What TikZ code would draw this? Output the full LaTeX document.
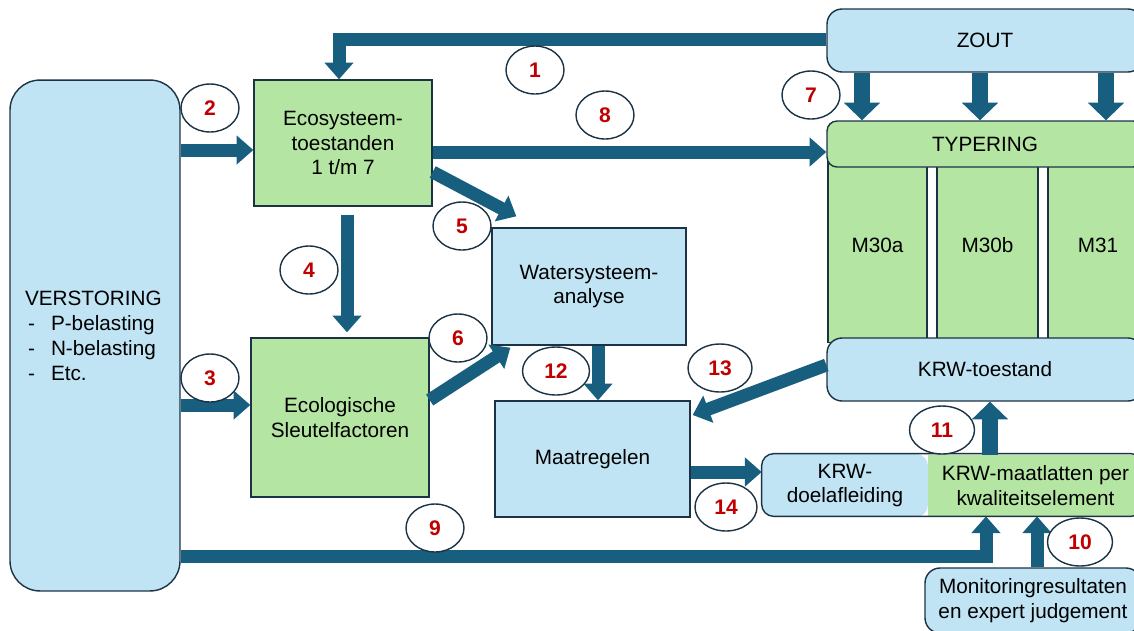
\documentclass[tikz,border=0pt]{standalone}
\usepackage{fontspec}
\setmainfont{Liberation Sans}
\usetikzlibrary{arrows.meta,shapes.geometric,calc}
\definecolor{lichtblauw}{HTML}{C1E4F5}
\definecolor{lichtgroen}{HTML}{B4E5A2}
\definecolor{pijlblauw}{HTML}{175E7F}
\definecolor{rand}{HTML}{1B3345}
\definecolor{rood}{HTML}{C00000}

\begin{document}
\begin{tikzpicture}[x=0.02cm,y=-0.02cm,
    font=\fontsize{11.8}{14.2}\selectfont,
    blok/.style={draw=rand,line width=0.8pt,align=center,inner sep=0pt},
    pijl/.style={draw=pijlblauw,line width=7.4pt,-{Triangle[width=16pt,length=9.5pt]}},
    dikpijl/.style={draw=pijlblauw,line width=9.5pt,-{Triangle[width=20pt,length=10pt]}},
    num/.style={ellipse,draw=rand,line width=0.8pt,fill=white,text=rood,inner sep=0pt,
        font=\fontsize{12}{14}\selectfont\bfseries,minimum width=1.16cm,minimum height=0.96cm}]

    \useasboundingbox (0,0) rectangle (1134,630);

    \node[blok,rounded corners=0.6cm,fill=lichtblauw,minimum width=3.4cm,minimum height=10.22cm,
        text width=2.8cm,align=left] (verst) at (95,335.5)
        {VERSTORING\\
         \hspace*{0.06cm}\makebox[0.46cm][l]{-}P-belasting\\
         \hspace*{0.06cm}\makebox[0.46cm][l]{-}N-belasting\\
         \hspace*{0.06cm}\makebox[0.46cm][l]{-}Etc.};
    \node[blok,fill=lichtgroen,minimum width=3.56cm,minimum height=2.52cm] (eco) at (343,143) {Ecosysteem-\\toestanden\\1 t/m 7};
    \node[blok,fill=lichtgroen,minimum width=3.56cm,minimum height=3.18cm] (esf) at (340,417.5) {Ecologische\\Sleutelfactoren};
    \node[blok,fill=lichtblauw,minimum width=3.88cm,minimum height=2.34cm] (wsa) at (589,286.5) {Watersysteem-\\analyse};
    \node[blok,fill=lichtblauw,minimum width=3.9cm,minimum height=2.32cm] (maat) at (592.5,459) {Maatregelen};

    % rechterkant
    \node[blok,rounded corners=0.3cm,fill=lichtblauw,minimum width=6.32cm,minimum height=1.26cm] (zout) at (985,40.5) {ZOUT};
    \node[blok,fill=lichtgroen,minimum width=1.98cm,minimum height=3.9cm] (m30a) at (877.5,245) {M30a};
    \node[blok,fill=lichtgroen,minimum width=2.02cm,minimum height=3.9cm] (m30b) at (987.5,245) {M30b};
    \node[blok,fill=lichtgroen,minimum width=2cm,minimum height=3.9cm] (m31) at (1098,245) {M31};
    \node[blok,rounded corners=0.2cm,fill=lichtgroen,minimum width=6.32cm,minimum height=0.92cm] (typ) at (985,144) {TYPERING};
    \node[blok,rounded corners=0.3cm,fill=lichtblauw,minimum width=6.32cm,minimum height=1.26cm] (krwt) at (985,369.5) {KRW-toestand};

    \node[rounded corners=0.24cm,fill=lichtblauw,align=center,inner sep=0pt,minimum width=3.32cm,minimum height=1.26cm] (doel) at (845,485.5) {KRW-\\doelafleiding};
    \node[fill=lichtgroen,align=center,inner sep=0pt,minimum width=4.3cm,minimum height=1.22cm] (maatl) at (1035.5,485.5) {KRW-maatlatten per\\kwaliteitselement};
    \draw[rand,line width=0.8pt,rounded corners=0.24cm] (doel.north west) rectangle (maatl.south east -| 1143,0);
    \node[blok,rounded corners=0.3cm,fill=lichtblauw,minimum width=4.32cm,minimum height=1.3cm] (mon) at (1033,600.5) {Monitoringresultaten\\en expert judgement};

    % pijlen
    \draw[pijl] (zout.west |- 0,39) -| (eco.north -| 339,0);
    \draw[pijl] (verst.east |- 0,150) -- (eco.west |- 0,150);
    \draw[pijl] (verst.east |- 0,405) -- (esf.west |- 0,405);
    \draw[pijl,shorten <=0.16cm,shorten >=0.1cm] (eco.south -| 347,0) -- (esf.north -| 347,0);
    \draw[pijl] (eco.east |- 0,172) -- ($(wsa.north west)+(25,-11)$);
    \draw[pijl] (esf.east |- 0,400) -- ($(wsa.south west)+(19,2)$);
    \foreach \x in {862,980,1106}
        \draw[dikpijl] (zout.south -| \x,0) -- (typ.north -| \x,0);
    \draw[pijl] (eco.east |- 0,152) -- (typ.west |- 0,152);
    \draw[pijl] (verst.east |- 0,556) -| (maatl.south -| 986,0);
    \draw[pijl] (mon.north -| 1037,0) -- (maatl.south -| 1037,0);
    \draw[dikpijl] (maatl.north -| 990,0) -- (krwt.south -| 990,0);
    \draw[pijl] (wsa.south -| 598,0) -- (maat.north -| 598,0);
    \draw[pijl] (krwt.west |- 0,365) -- ($(maat.east)+(2,-44)$);
    \draw[pijl] (maat.east |- 0,472) -- (doel.west |- 0,472);

    % nummers
    \node[num] (n1) at (535,70) {1};
    \node[num] (n2) at (210,108) {2};
    \node[num] (n3) at (210,378) {3};
    \node[num] (n4) at (309,270) {4};
    \node[num] (n5) at (462,226) {5};
    \node[num] (n6) at (458,338) {6};
    \node[num] (n7) at (811,95) {7};
    \node[num] (n8) at (605,115) {8};
    \node[num] (n9) at (435,528) {9};
    \node[num,minimum width=1.3cm] (n10) at (1080,542) {10};
    \node[num,minimum width=1.3cm] (n11) at (942,430) {11};
    \node[num,minimum width=1.34cm] (n12) at (556,371) {12};
    \node[num,minimum width=1.28cm] (n13) at (720,368) {13};
    \node[num,minimum width=1.24cm] (n14) at (726,507) {14};
\end{tikzpicture}
\end{document}
